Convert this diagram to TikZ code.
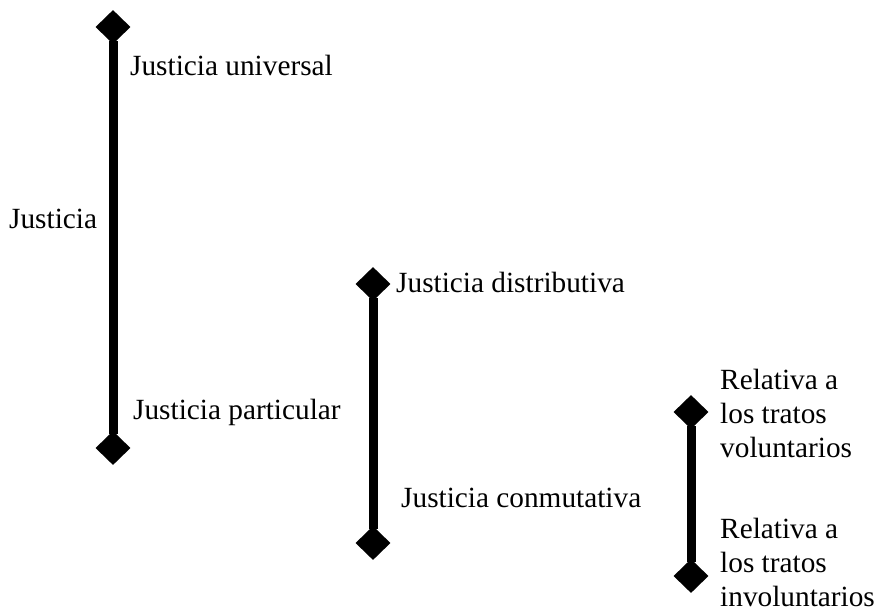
\documentclass[tikz,border=0pt]{standalone}
\usepackage{fontspec}
\setmainfont{Liberation Serif}
\usetikzlibrary{shapes.geometric}
\tikzset{
  mark diamond/.style={diamond, fill=black, draw=none, inner sep=0pt, minimum width=35pt, minimum height=34pt},
  bar/.style={line width=9pt, shorten <=-3pt, shorten >=-3pt},
  lbl/.style={anchor=base west, inner sep=0pt, font=\fontsize{29.3}{34}\selectfont, align=left}
}
\begin{document}
\begin{tikzpicture}[x=1pt, y=-1pt]
\useasboundingbox (0,0) rectangle (875,606);
% diamonds
\node[mark diamond] (d1a) at (113,27) {};
\node[mark diamond] (d1b) at (113,448) {};
\node[mark diamond] (d2a) at (373,284) {};
\node[mark diamond] (d2b) at (373,543) {};
\node[mark diamond] (d3a) at (691,412) {};
\node[mark diamond] (d3b) at (691,576) {};
% bars
\draw[bar] (d1a) -- (d1b);
\draw[bar] (d2a) -- (d2b);
\draw[bar] (d3a) -- (d3b);
% labels
\node[lbl] (tuniv) at (130,75) {Justicia universal};
\node[lbl] (tjus) at (9,228) {Justicia};
\node[lbl] (tpart) at (133,419) {Justicia particular};
\node[lbl] (tdist) at (396,292) {Justicia distributiva};
\node[lbl] (tconm) at (401,507) {Justicia conmutativa};
\node[lbl] (tvol) at (720,389) {\begin{tabular}[t]{@{}l@{}}Relativa a\\los tratos\\voluntarios\end{tabular}};
\node[lbl] (tinv) at (720,538) {\begin{tabular}[t]{@{}l@{}}Relativa a\\los tratos\\involuntarios\end{tabular}};
\end{tikzpicture}
\end{document}
